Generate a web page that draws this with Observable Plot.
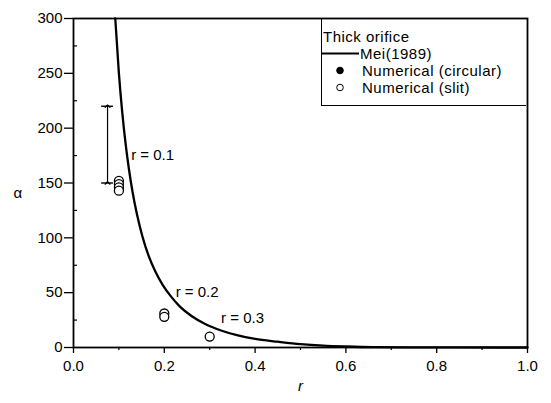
<!DOCTYPE html>
<html>
<head>
<meta charset="utf-8">
<script src="https://cdn.jsdelivr.net/npm/d3@7"></script>
<script src="https://cdn.jsdelivr.net/npm/@observablehq/plot@0.6"></script>
<style>
  body { margin: 0; background: white; }
  #wrap { position: relative; width: 551px; height: 403px; font-family: "Liberation Sans", Arial, sans-serif; }
  #legend { position: absolute; left: 321px; top: 18px; width: 205px; height: 88px; border: 1px solid black; border-top: none; border-right: none; box-sizing: border-box; font-size: 15px; letter-spacing: 0.5px; color: black; }
  #legend .row { position: absolute; left: 0; height: 17px; line-height: 17px; white-space: nowrap; }
  #legend svg { position: absolute; left: 0; top: 0; }
</style>
</head>
<body>
<div id="wrap"></div>
<script>
// ---- data ----
const meiR     = [0.092, 0.1, 0.107, 0.115, 0.122, 0.13, 0.14, 0.152, 0.166, 0.18, 0.196, 0.215, 0.235, 0.26, 0.29, 0.325, 0.36, 0.4, 0.45, 0.5, 0.55, 0.6, 0.66, 0.75, 0.85, 1.0];
const meiAlpha = [300, 250, 216, 185, 163, 142, 121, 101, 83, 69.5, 57.4, 46.4, 37.1, 28.7, 21.4, 15.5, 11.2, 7.8, 5.3, 3.1, 1.7, 0.9, 0.3, 0.1, 0.03, 0];

const slitR     = [0.1, 0.1, 0.1, 0.1, 0.2, 0.2, 0.3];
const slitAlpha = [152, 149, 146, 143, 31, 28, 10];

const circR     = [0.1, 0.2, 0.3];
const circAlpha = [146, 29, 10];

const errR = [0.075];
const errLo = [150];
const errHi = [220];

const annoR = [0.127, 0.225, 0.325];
const annoAlpha = [175, 50, 27];
const annoText = ["r = 0.1", "r = 0.2", "r = 0.3"];

const xTicks = [0, 0.2, 0.4, 0.6, 0.8, 1.0];
const xMinor = [0.1, 0.3, 0.5, 0.7, 0.9];
const yTicks = [0, 50, 100, 150, 200, 250, 300];
const yMinor = [25, 75, 125, 175, 225, 275];

const legendTitle = "Thick orifice";
const seriesNames = ["Mei(1989)", "Numerical (circular)", "Numerical (slit)"];

// ---- build tables ----
const mei = meiR.map((r, i) => ({r, a: meiAlpha[i]}));
const slit = slitR.map((r, i) => ({r, a: slitAlpha[i]}));
const circ = circR.map((r, i) => ({r, a: circAlpha[i]}));
const err = errR.map((r, i) => ({r, lo: errLo[i], hi: errHi[i]}));
const caps = err.flatMap(d => [{r: d.r, v: d.lo}, {r: d.r, v: d.hi}]);
const anno = annoR.map((r, i) => ({r, a: annoAlpha[i], t: annoText[i]}));
const capHalf = 0.013;

const FONT = '"Liberation Sans", Arial, sans-serif';

const chart = Plot.plot({
  width: 551,
  height: 403,
  marginTop: 18,
  marginRight: 24,
  marginBottom: 56,
  marginLeft: 73,
  style: {fontFamily: FONT, fontSize: "15px", color: "black", background: "white", overflow: "visible"},
  x: {domain: [0, 1]},
  y: {domain: [0, 300]},
  marks: [
    Plot.axisX({ticks: xTicks, tickSize: 6, tickPadding: 7, tickFormat: d3.format(".1f"), label: null, fontSize: 15, strokeWidth: 1.3}),
    Plot.axisX({ticks: xMinor, tickSize: 3, tickFormat: () => "", label: null, strokeWidth: 1.2}),
    Plot.axisY({ticks: yTicks, tickSize: 9, tickPadding: 2, label: null, fontSize: 15, strokeWidth: 1.3}),
    Plot.axisY({ticks: yMinor, tickSize: -4, tickFormat: () => "", label: null, strokeWidth: 1.2}),
    Plot.line(mei, {x: "r", y: "a", stroke: "black", strokeWidth: 2.3, curve: "monotone-x"}),
    Plot.link(err, {x1: "r", x2: "r", y1: "lo", y2: "hi", stroke: "black", strokeWidth: 1.2, markerStart: "arrow", markerEnd: "arrow"}),
    Plot.ruleY(caps, {y: "v", x1: d => d.r - capHalf, x2: d => d.r + capHalf, stroke: "black", strokeWidth: 1.4}),
    Plot.dot(circ, {x: "r", y: "a", r: 3.5, fill: "black", stroke: "none"}),
    Plot.dot(slit, {x: "r", y: "a", r: 4.5, fill: "white", stroke: "black", strokeWidth: 1.3}),
    Plot.text(anno, {x: "r", y: "a", text: "t", textAnchor: "start", fontSize: 15, fill: "black"}),
    Plot.text(["α"], {frameAnchor: "left", dx: -60, dy: 10, fontSize: 15, fill: "black"}),
    Plot.text(["r"], {frameAnchor: "bottom", dy: 43, fontSize: 15, fontStyle: "italic", fill: "black"}),
    Plot.frame({stroke: "black", strokeWidth: 1.8})
  ]
});

const wrap = document.getElementById("wrap");
wrap.appendChild(chart);

// ---- legend overlay ----
const legend = document.createElement("div");
legend.id = "legend";
const rows = [
  {label: legendTitle, sym: null, textX: 1, y: 10},
  {label: seriesNames[0], sym: "line", textX: 38, y: 27},
  {label: seriesNames[1], sym: "filled", textX: 40, y: 44},
  {label: seriesNames[2], sym: "open", textX: 40, y: 61}
];
for (const row of rows) {
  const div = document.createElement("div");
  div.className = "row";
  div.style.top = row.y + "px";
  div.style.width = "205px";
  if (row.sym) {
    const ns = "http://www.w3.org/2000/svg";
    const svg = document.createElementNS(ns, "svg");
    svg.setAttribute("width", 40);
    svg.setAttribute("height", 17);
    let el;
    if (row.sym === "line") {
      el = document.createElementNS(ns, "line");
      el.setAttribute("x1", 0); el.setAttribute("x2", 37);
      el.setAttribute("y1", 8.5); el.setAttribute("y2", 8.5);
      el.setAttribute("stroke", "black"); el.setAttribute("stroke-width", 2);
    } else {
      el = document.createElementNS(ns, "circle");
      el.setAttribute("cx", 18); el.setAttribute("cy", 8.5); el.setAttribute("r", 3.3);
      el.setAttribute("fill", row.sym === "filled" ? "black" : "white");
      el.setAttribute("stroke", "black"); el.setAttribute("stroke-width", 1);
    }
    svg.appendChild(el);
    div.appendChild(svg);
  }
  const span = document.createElement("span");
  span.textContent = row.label;
  span.style.position = "absolute";
  span.style.left = row.textX + "px";
  div.appendChild(span);
  legend.appendChild(div);
}
wrap.appendChild(legend);
</script>
</body>
</html>
